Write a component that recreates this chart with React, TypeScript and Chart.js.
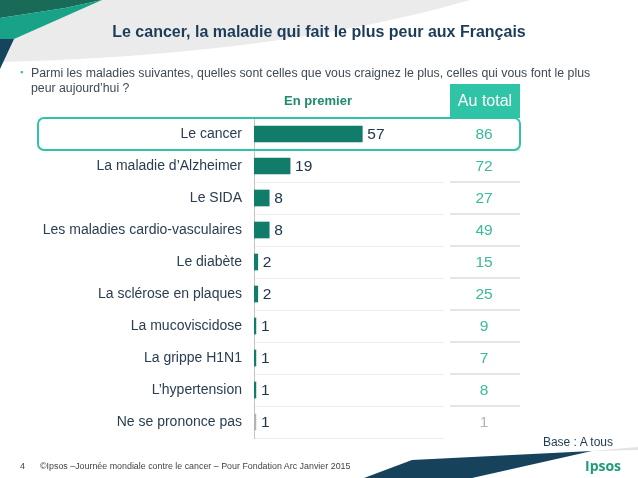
import React, { useEffect, useRef } from "react";
import { Chart, registerables } from "chart.js";

Chart.register(...registerables);

const categories = [
  "Le cancer",
  "La maladie d’Alzheimer",
  "Le SIDA",
  "Les maladies cardio-vasculaires",
  "Le diabète",
  "La sclérose en plaques",
  "La mucoviscidose",
  "La grippe H1N1",
  "L’hypertension",
  "Ne se prononce pas",
];
const enPremier = [57, 19, 8, 8, 2, 2, 1, 1, 1, 1];
const auTotal = [86, 72, 27, 49, 15, 25, 9, 7, 8, 1];

const FONT = "'Liberation Sans', Arial, Helvetica, sans-serif";
const BAR = "#127c6a";
const BAR_NSP = "#b3b3b3";
const TEAL = "#2ec4a5";
const NAVY = "#1c3d5a";

const backgroundPlugin = {
  id: "slideBackground",
  beforeDraw(chart: any) {
    const ctx = chart.ctx;
    const W = chart.width;
    const H = chart.height;
    ctx.save();
    ctx.fillStyle = "#ffffff";
    ctx.fillRect(0, 0, W, H);
    // grey swoosh at top
    ctx.fillStyle = "#ebebeb";
    ctx.beginPath();
    ctx.moveTo(0, 0);
    ctx.lineTo(470, 0);
    ctx.quadraticCurveTo(280, 55, 0, 62);
    ctx.closePath();
    ctx.fill();
    // top-left shapes
    ctx.fillStyle = "#1a6a58";
    ctx.beginPath();
    ctx.moveTo(0, 0);
    ctx.lineTo(102, 0);
    ctx.lineTo(65, 8);
    ctx.lineTo(0, 18);
    ctx.closePath();
    ctx.fill();
    ctx.fillStyle = "#18a287";
    ctx.beginPath();
    ctx.moveTo(0, 18);
    ctx.lineTo(65, 8);
    ctx.lineTo(102, 0);
    ctx.lineTo(14, 39);
    ctx.lineTo(0, 39);
    ctx.closePath();
    ctx.fill();
    ctx.fillStyle = "#15445e";
    ctx.beginPath();
    ctx.moveTo(0, 39);
    ctx.lineTo(14, 39);
    ctx.lineTo(0, 69);
    ctx.closePath();
    ctx.fill();
    // bottom navy wedge
    ctx.fillStyle = "#17425c";
    ctx.beginPath();
    ctx.moveTo(364, 478);
    ctx.lineTo(412, 460);
    ctx.lineTo(592, 451);
    ctx.lineTo(472, 478);
    ctx.closePath();
    ctx.fill();
    ctx.fillStyle = "#e4e4e4";
    ctx.beginPath();
    ctx.moveTo(590, 451);
    ctx.lineTo(638, 447);
    ctx.lineTo(638, 450);
    ctx.closePath();
    ctx.fill();
    ctx.restore();
  },
};

const overlayPlugin = {
  id: "slideOverlay",
  afterDatasetsDraw(chart: any) {
    const ctx = chart.ctx;
    const y = chart.scales.y;
    const meta = chart.getDatasetMeta(0);
    ctx.save();
    // right column separators
    ctx.strokeStyle = "#dcdcdc";
    ctx.lineWidth = 1.5;
    for (let i = 0; i < categories.length - 1; i++) {
      const yy = (y.getPixelForValue(i) + y.getPixelForValue(i + 1)) / 2;
      ctx.beginPath();
      ctx.moveTo(450, yy);
      ctx.lineTo(520, yy);
      ctx.stroke();
    }
    // values after bars
    ctx.font = `15.5px ${FONT}`;
    ctx.textBaseline = "middle";
    ctx.textAlign = "left";
    ctx.fillStyle = "#22374b";
    meta.data.forEach((bar: any, i: number) => {
      ctx.fillText(String(enPremier[i]), bar.x + 5, bar.y + 1);
    });
    // au total values
    ctx.textAlign = "center";
    auTotal.forEach((v, i) => {
      ctx.fillStyle = i === auTotal.length - 1 ? "#b5b5b5" : "#3ab99b";
      ctx.fillText(String(v), 484, y.getPixelForValue(i) + 1);
    });
    // highlight box around first row
    const top = y.getPixelForValue(0) - 16;
    ctx.strokeStyle = TEAL;
    ctx.lineWidth = 2;
    ctx.beginPath();
    (ctx as any).roundRect(38, top, 482, 32, 6);
    ctx.stroke();
    ctx.restore();
  },
};

export default function App() {
  const ref = useRef<HTMLCanvasElement | null>(null);
  useEffect(() => {
    if (!ref.current) return;
    const chart = new Chart(ref.current, {
      type: "bar",
      data: {
        labels: categories,
        datasets: [
          {
            data: enPremier,
            backgroundColor: enPremier.map((_, i) => (i === enPremier.length - 1 ? BAR_NSP : BAR)),
            barThickness: 16,
          },
        ],
      },
      options: {
        indexAxis: "y",
        responsive: false,
        animation: false,
        devicePixelRatio: 1,
        layout: { padding: { left: 0, top: 118, right: 194, bottom: 40 } },
        plugins: { legend: { display: false }, tooltip: { enabled: false }, title: { display: false } },
        scales: {
          x: { display: false, min: 0, max: 100 },
          y: {
            grid: { color: "#ededed", drawTicks: false, offset: true },
            border: { color: "#c4c4c4", width: 1 },
            ticks: { color: "#2b3d50", font: { family: FONT, size: 14 }, padding: 12 },
            afterFit(scale: any) {
              scale.width = 254;
            },
          },
        },
      } as any,
      plugins: [backgroundPlugin, overlayPlugin],
    });
    return () => chart.destroy();
  }, []);

  const abs = (s: React.CSSProperties): React.CSSProperties => ({ position: "absolute", whiteSpace: "nowrap", fontFamily: FONT, lineHeight: 1, ...s });

  return (
    <div style={{ position: "fixed", left: 0, top: 0, width: 638, height: 478, overflow: "hidden" }}>
      <canvas ref={ref} width={638} height={478} style={{ position: "absolute", left: 0, top: 0, width: 638, height: 478 }} />
      <div style={abs({ left: 0, width: 638, top: 24, textAlign: "center", fontSize: 16, fontWeight: "bold", color: NAVY })}>
        Le cancer, la maladie qui fait le plus peur aux Français
      </div>
      <div style={abs({ left: 20, top: 68, fontSize: 9, color: TEAL })}>▪</div>
      <div style={abs({ left: 31, top: 66, fontSize: 12.3, color: "#3f4a55", lineHeight: "15px" })}>
        Parmi les maladies suivantes, quelles sont celles que vous craignez le plus, celles qui vous font le plus
        <br />
        peur aujourd’hui ?
      </div>
      <div style={abs({ left: 218, width: 200, top: 93.5, textAlign: "center", fontSize: 13, fontWeight: "bold", color: "#1e8a6e" })}>
        En premier
      </div>
      <div
        style={abs({
          left: 450,
          top: 84,
          width: 70,
          height: 34,
          background: TEAL,
          color: "#ffffff",
          fontSize: 16,
          display: "flex",
          alignItems: "center",
          justifyContent: "center",
        })}
      >
        Au total
      </div>
      <div style={abs({ right: 25, top: 436, fontSize: 12, color: "#1f3a50" })}>Base : A tous</div>
      <div style={abs({ left: 20, top: 462, fontSize: 9, color: "#444" })}>4</div>
      <div style={abs({ left: 40, top: 462, fontSize: 8.9, color: "#444" })}>
        ©Ipsos –Journée mondiale contre le cancer – Pour Fondation Arc  Janvier 2015
      </div>
      <div style={abs({ left: 585, top: 459, fontSize: 14, fontWeight: "bold", color: "#1e9b7a", fontFamily: "'Open Sans', sans-serif" })}>
        Ipsos
      </div>
    </div>
  );
}
